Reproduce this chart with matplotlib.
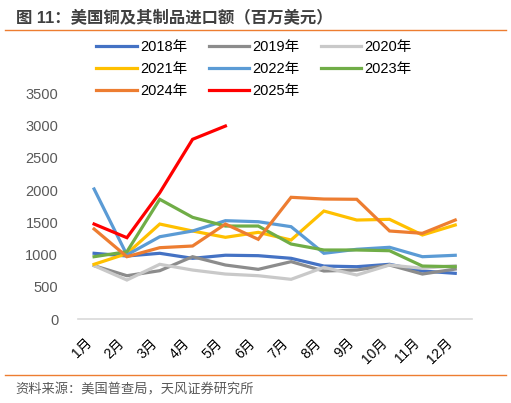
import matplotlib
matplotlib.use("Agg")
import matplotlib.pyplot as plt
from matplotlib.lines import Line2D

plt.rcParams['font.family'] = ['Liberation Sans', 'Noto Sans CJK SC', 'DejaVu Sans']

months = ['1月', '2月', '3月', '4月', '5月', '6月', '7月', '8月', '9月', '10月', '11月', '12月']

# 美国铜及其制品进口额（百万美元）
y2018 = [1020, 978, 1020, 942, 990, 983, 942, 822, 812, 849, 745, 709]
y2019 = [828, 672, 750, 967, 838, 771, 890, 745, 760, 838, 698, 775]
y2020 = [828, 605, 849, 760, 698, 672, 616, 802, 683, 838, 787, 828]
y2021 = [849, 1015, 1474, 1366, 1268, 1345, 1226, 1676, 1536, 1547, 1304, 1459]
y2022 = [2018, 995, 1277, 1366, 1526, 1510, 1433, 1020, 1082, 1113, 967, 989]
y2023 = [967, 1045, 1858, 1578, 1443, 1443, 1164, 1071, 1071, 1060, 822, 812]
y2024 = [1397, 967, 1107, 1133, 1474, 1237, 1889, 1862, 1858, 1366, 1330, 1536]
y2025 = [1474, 1262, 1960, 2789, 2995]

series = [
    ('2018年', y2018, '#4472C4'),
    ('2019年', y2019, '#8C8C8C'),
    ('2020年', y2020, '#C9C9C9'),
    ('2021年', y2021, '#FFC000'),
    ('2022年', y2022, '#5B9BD5'),
    ('2023年', y2023, '#70AD47'),
    ('2024年', y2024, '#ED7D31'),
    ('2025年', y2025, '#FF0000'),
]

fig = plt.figure(figsize=(5.11, 4.03), dpi=100)
ax = fig.add_axes([0.152, 0.2084, 0.771, 0.5596])

x = list(range(len(months)))
handles = {}
for name, vals, col in series:
    ln, = ax.plot(x[:len(vals)], vals, color=col, lw=2.3, solid_joinstyle='miter')
    handles[name] = ln

ax.set_xlim(-0.5, 11.5)
ax.set_ylim(0, 3500)
ax.set_yticks(range(0, 3501, 500))
ax.set_xticks(x)
ax.set_xticklabels(months, rotation=45, ha='right', va='top', fontsize=10)
ax.tick_params(axis='x', length=0, pad=12)
ax.tick_params(axis='y', length=0, pad=14, labelcolor='#595959', labelsize=10.5)
for s in ['top', 'right', 'left']:
    ax.spines[s].set_visible(False)
ax.spines['bottom'].set_color('#D9D9D9')
ax.spines['bottom'].set_linewidth(1.2)

order = ['2018年', '2021年', '2024年', '2019年', '2022年', '2025年', '2020年', '2023年']
fig.legend([handles[n] for n in order], order, ncol=3, frameon=False,
           loc='upper left', bbox_to_anchor=(0.163, 0.933), fontsize=10.5,
           handlelength=2.75, handletextpad=0.25, columnspacing=1.45,
           labelspacing=0.55)

# 标题与分隔线
fig.text(0.031, 0.957, '图 11：美国铜及其制品进口额（百万美元）', fontsize=11.8,
         fontweight='bold', color='#404040', ha='left', va='center')
fig.add_artist(Line2D([0.01, 0.99], [0.926, 0.926], color='#ED7D31', lw=1.0))
fig.add_artist(Line2D([0.01, 0.99], [0.07, 0.07], color='#ED7D31', lw=1.0))
fig.text(0.031, 0.032, '资料来源：美国普查局，天风证券研究所', fontsize=9.5,
         color='#595959', ha='left', va='center')

fig.savefig('out.png', dpi=100)
